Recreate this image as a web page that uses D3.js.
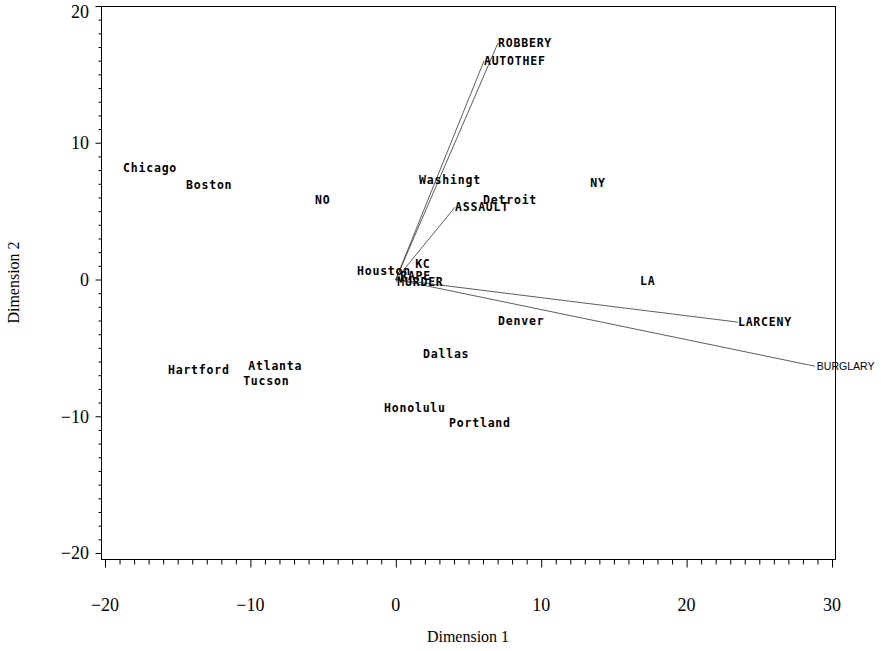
<!DOCTYPE html>
<html><head><meta charset="utf-8">
<script src="https://cdn.jsdelivr.net/npm/d3@7"></script>
<style>body{margin:0;background:#fff}</style>
</head><body>
<svg id="c" width="881" height="651"></svg>
<script>
// City scores (label anchor = left-centre of text)
const cities = ["Chicago","Boston","NO","Washingt","Detroit","NY","Houston","KC","LA","Denver","Dallas","Hartford","Atlanta","Tucson","Honolulu","Portland"];
const cityX = [-18.76,-14.43,-5.56,1.6,6.0,13.37,-2.67,1.33,16.8,7.03,1.87,-15.67,-10.15,-10.5,-0.81,3.66];
const cityY = [8.14,6.9,5.8,7.26,5.8,7.05,0.6,1.12,-0.1,-3.05,-5.46,-6.6,-6.3,-7.4,-9.4,-10.5];
// Variable vectors
const vars = ["ROBBERY","AUTOTHEF","ASSAULT","LARCENY","BURGLARY","RAPE","MURDER"];
const varX = [7.03,6.06,4.07,23.53,28.82,0.3,0.1];
const varY = [17.3,15.97,5.29,-3.12,-6.34,0.25,-0.2];
const xTicks = [-20,-10,0,10,20,30];
const yTicks = [-20,-10,0,10,20];

const svg = d3.select("#c");
const x = d3.scaleLinear().domain([-20,30]).range([105,832]);
const y = d3.scaleLinear().domain([-20,20]).range([553,6]);
const fL=101, fR=835, fT=6, fB=559;

svg.append("rect").attr("x",fL+0.5).attr("y",fT+0.5).attr("width",fR-fL).attr("height",fB-fT)
  .attr("fill","none").attr("stroke","#000").attr("stroke-width",1);

const fmt = v => v<0 ? "\u2212"+Math.abs(v) : String(v);

// x axis
const xAx = svg.append("g").attr("transform",`translate(0,${fB+0.5})`)
  .call(d3.axisBottom(x).tickValues(d3.range(-20,31,1)).tickSize(5).tickFormat(""));
xAx.select(".domain").remove();
xAx.selectAll(".tick").filter(d=>xTicks.includes(d)).select("line").attr("y2",8);
svg.append("g").selectAll("text").data(xTicks).join("text")
  .attr("x",d=>x(d)).attr("y",611).attr("text-anchor","middle")
  .attr("font-family","Liberation Serif, Times New Roman, serif").attr("font-size",18)
  .text(fmt);

// y axis
const yAx = svg.append("g").attr("transform",`translate(${fL+0.5},0)`)
  .call(d3.axisLeft(y).tickValues(d3.range(-20,21,1)).tickSize(3).tickFormat(""));
yAx.select(".domain").remove();
yAx.selectAll(".tick").filter(d=>yTicks.includes(d)).select("line").attr("x2",-6);
svg.append("g").selectAll("text").data(yTicks).join("text")
  .attr("x",89).attr("y",d=>Math.max(y(d),12)).attr("dy","0.35em").attr("text-anchor","end")
  .attr("font-family","Liberation Serif, Times New Roman, serif").attr("font-size",18)
  .text(fmt);

// axis titles
svg.append("text").attr("x",(fL+fR)/2).attr("y",642).attr("text-anchor","middle")
  .attr("font-family","Liberation Serif, Times New Roman, serif").attr("font-size",16).text("Dimension 1");
svg.append("text").attr("transform",`translate(19,${(fT+fB)/2}) rotate(-90)`).attr("text-anchor","middle")
  .attr("font-family","Liberation Serif, Times New Roman, serif").attr("font-size",16).text("Dimension 2");

// vectors
const vd = vars.map((v,i)=>({name:v,x:varX[i],y:varY[i]}));
svg.append("g").selectAll("line").data(vd).join("line")
  .attr("x1",x(0)).attr("y1",y(0)).attr("x2",d=>x(d.x)).attr("y2",d=>y(d.y))
  .attr("stroke","#333").attr("stroke-width",0.8);

const lblFont = "DejaVu Sans Mono, monospace";
svg.append("g").selectAll("text").data(vd).join("text")
  .attr("x",d=>x(d.x)+(d.name==="BURGLARY"?2:0)).attr("y",d=>y(d.y)).attr("dy","0.35em")
  .attr("font-family",d=>d.name==="BURGLARY"?"Liberation Sans, Arial, sans-serif":lblFont)
  .attr("font-weight",d=>d.name==="BURGLARY"?"normal":"bold")
  .attr("font-size",d=>d.name==="BURGLARY"?10.5:11.5)
  .attr("letter-spacing",d=>d.name==="BURGLARY"?0:0.8)
  .attr("fill","#000").text(d=>d.name);

// cities
const cd = cities.map((c,i)=>({name:c,x:cityX[i],y:cityY[i]}));
svg.append("g").selectAll("text").data(cd).join("text")
  .attr("x",d=>x(d.x)).attr("y",d=>y(d.y)).attr("dy","0.35em")
  .attr("font-family",lblFont).attr("font-weight","bold").attr("font-size",11.5)
  .attr("letter-spacing",0.8).attr("fill","#000").text(d=>d.name);
</script>
</body></html>
